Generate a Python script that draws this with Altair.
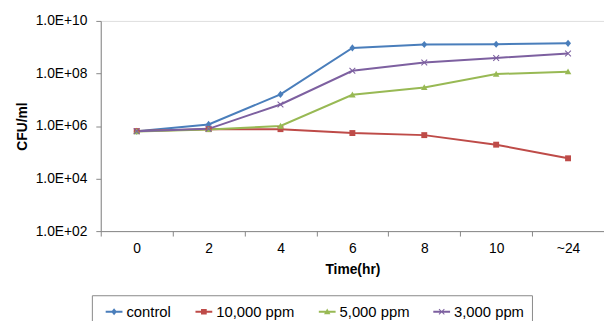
import altair as alt
import pandas as pd

times = ["0", "2", "4", "6", "8", "10", "~24"]
series_names = ["control", "10,000 ppm", "5,000 ppm", "3,000 ppm"]
control = [6.3e5, 1.15e6, 1.6e7, 9.4e8, 1.26e9, 1.3e9, 1.4e9]
ppm10000 = [6.4e5, 7.6e5, 7.6e5, 5.4e5, 4.5e5, 1.95e5, 5.9e4]
ppm5000 = [6.2e5, 7.4e5, 1.0e6, 1.55e7, 2.95e7, 9.5e7, 1.17e8]
ppm3000 = [6.3e5, 7.8e5, 6.6e6, 1.26e8, 2.6e8, 3.9e8, 5.8e8]
colors = ["#4A7EBB", "#BE4B48", "#98B954", "#7D60A0"]
tick_vals = [1e2, 1e4, 1e6, 1e8, 1e10]

rows = []
for name, vals in zip(series_names, [control, ppm10000, ppm5000, ppm3000]):
    for t, v in zip(times, vals):
        rows.append({"time": t, "series": name, "series_l": name, "cfu": v})
df = pd.DataFrame(rows)

FONT = "Liberation Sans"

plain_shapes = [
    "M0,-1.2L1,0L0,1.2L-1,0Z",
    "M-1,-1L1,-1L1,1L-1,1Z",
    "M0,-1.1L1.1,0.9L-1.1,0.9Z",
    "M-1.1,-0.85L-0.85,-1.1L1.1,0.85L0.85,1.1Z M0.85,-1.1L1.1,-0.85L-0.85,1.1L-1.1,0.85Z",
]
stub = "M-1,-0.11L1,-0.11L1,0.11L-1,0.11Z "
stub_shapes = [
    stub + "M0,-0.42L0.34,0L0,0.42L-0.34,0Z",
    stub + "M-0.34,-0.34L0.34,-0.34L0.34,0.34L-0.34,0.34Z",
    stub + "M0,-0.38L0.38,0.3L-0.38,0.3Z",
    stub + "M-0.36,-0.28L-0.28,-0.36L0.36,0.28L0.28,0.36Z M0.28,-0.36L0.36,-0.28L-0.28,0.36L-0.36,0.28Z",
]

x_enc = alt.X(
    "time:N",
    sort=times,
    scale=alt.Scale(type="band", paddingInner=0, paddingOuter=0),
    axis=alt.Axis(
        title="Time(hr)",
        tickBand="extent",
        labelAngle=0,
        labelFont=FONT,
        labelFontSize=14,
        labelColor="#000000",
        labelPadding=6,
        titleFont=FONT,
        titleFontSize=14,
        titleFontWeight="bold",
        titleColor="#000000",
        titlePadding=7,
        domainColor="#868686",
        tickColor="#868686",
        tickSize=5,
        grid=False,
    ),
)
y_enc = alt.Y(
    "cfu:Q",
    scale=alt.Scale(type="log", domain=[1e2, 1e10]),
    axis=alt.Axis(
        title="CFU/ml",
        values=tick_vals,
        labelExpr="'1.0E+' + (datum.value >= 1e10 ? '' : '0') + round(log(datum.value) / LN10)",
        labelFont=FONT,
        labelFontSize=14,
        labelColor="#000000",
        labelPadding=9,
        titleFont=FONT,
        titleFontSize=14,
        titleFontWeight="bold",
        titleColor="#000000",
        titlePadding=6,
        domainColor="#868686",
        tickColor="#868686",
        tickSize=5,
        grid=False,
    ),
)

cscale = alt.Scale(domain=series_names, range=colors)

base = alt.Chart(df)
lines = base.mark_line(strokeWidth=2).encode(
    x=x_enc, y=y_enc,
    color=alt.Color("series:N", scale=cscale, legend=None),
    detail="series:N",
)
points = base.mark_point(filled=True, size=36, opacity=1).encode(
    x=x_enc, y=y_enc,
    color=alt.Color("series:N", scale=cscale, legend=None),
    shape=alt.Shape("series:N", scale=alt.Scale(domain=series_names, range=plain_shapes), legend=None),
)
leg_props = dict(
    title=None,
    orient="none",
    legendX=-9,
    legendY=278,
    direction="horizontal",
    strokeColor="#888888",
    fillColor="#FFFFFF",
    padding=8,
    symbolSize=289,
    symbolStrokeWidth=0,
    symbolOffset=6,
    labelFont=FONT,
    labelFontSize=15,
    labelColor="#000000",
    labelOffset=4,
    columnPadding=18,
    symbolOpacity=1,
)
legend_layer = base.mark_point(filled=True, opacity=0).encode(
    color=alt.Color("series_l:N", scale=alt.Scale(domain=series_names, range=colors), legend=alt.Legend(**leg_props)),
    shape=alt.Shape("series_l:N", scale=alt.Scale(domain=series_names, range=stub_shapes), legend=alt.Legend(**leg_props)),
)

chart = (
    alt.layer(lines, points, legend_layer)
    .resolve_scale(color="independent", shape="independent")
    .properties(
        width=510,
        height=213,
        autosize=alt.AutoSizeParams(type="none"),
        padding={"left": 94, "top": 11, "right": 0, "bottom": 89},
    )
    .configure_view(stroke=None)
    .configure(background="#FFFFFF")
)

chart.save("out.html", embed_options={"renderer": "svg", "actions": False})
